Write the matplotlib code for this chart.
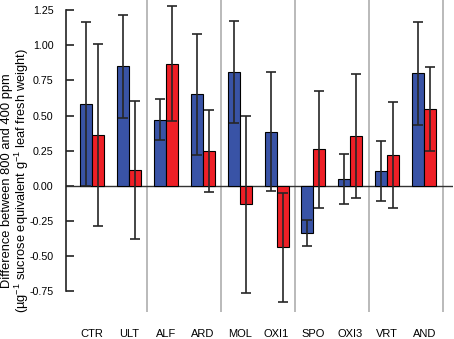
import matplotlib
matplotlib.use("Agg")
import matplotlib.pyplot as plt
import numpy as np

plt.rcParams['font.family'] = ['Liberation Sans', 'DejaVu Sans']
plt.rcParams['mathtext.default'] = 'regular'

# data
categories = ['CTR', 'ULT', 'ALF', 'ARD', 'MOL', 'OXI1', 'SPO', 'OXI3', 'VRT', 'AND']
blue_vals = [0.58, 0.85, 0.47, 0.65, 0.81, 0.385, -0.335, 0.048, 0.102, 0.80]
blue_err = [0.585, 0.366, 0.146, 0.428, 0.363, 0.425, 0.092, 0.178, 0.214, 0.368]
red_vals = [0.361, 0.112, 0.869, 0.247, -0.133, -0.439, 0.259, 0.352, 0.216, 0.548]
red_err = [0.65, 0.49, 0.408, 0.29, 0.63, 0.39, 0.418, 0.442, 0.377, 0.30]
separators = [1.5, 3.5, 5.5, 7.5, 9.5]
yticks = [-0.75, -0.50, -0.25, 0.00, 0.25, 0.50, 0.75, 1.00, 1.25]

blue = '#3953a6'
red = '#ee1f26'

fig = plt.figure(figsize=(4.54, 3.39), dpi=100)
ax = fig.add_axes([66 / 454, 1 - 312 / 339, 387 / 454, 312 / 339])

x = np.arange(len(categories))
w = 0.325
err_kw = dict(ecolor='#262626', elinewidth=1.2, capsize=3.6, capthick=1.2, zorder=4)
ax.bar(x - w / 2, blue_vals, w, color=blue, edgecolor='black', linewidth=0.8, zorder=3)
ax.bar(x + w / 2, red_vals, w, color=red, edgecolor='black', linewidth=0.8, zorder=3)
ax.errorbar(x - w / 2, blue_vals, yerr=blue_err, fmt='none', **err_kw)
ax.errorbar(x + w / 2, red_vals, yerr=red_err, fmt='none', **err_kw)

for s in separators:
    ax.axvline(s, color='#b4b4b4', lw=1.3, zorder=1)
ax.axhline(0, color='#333333', lw=1.0, zorder=2)

ax.set_xlim(-0.705, 9.78)
ax.set_ylim(-0.90, 1.323)

for sp in ['top', 'right', 'bottom']:
    ax.spines[sp].set_visible(False)
ax.spines['left'].set_bounds(-0.75, 1.25)
ax.spines['left'].set_linewidth(1.2)
ax.spines['left'].set_color('#222222')

ax.set_yticks(yticks)
ax.set_yticklabels(['%.2f' % v for v in yticks])
ax.tick_params(axis='y', direction='in', length=6, width=1.2, color='#222222',
               labelsize=7.7, pad=9.0)
ax.set_xticks(x)
ax.set_xticklabels(categories)
ax.tick_params(axis='x', length=0, labelsize=8, pad=12)

# two-line y label as one text
fig.text(16 / 454, 1 - 181 / 339,
         'Difference between 800 and 400 ppm\n'
         '(µg$^{-1}$ sucrose equivalent g$^{-1}$ leaf fresh weight)',
         rotation=90, ha='center', va='center', multialignment='center',
         fontsize=9.3, linespacing=0.95)

fig.savefig('out.png', dpi=100)
